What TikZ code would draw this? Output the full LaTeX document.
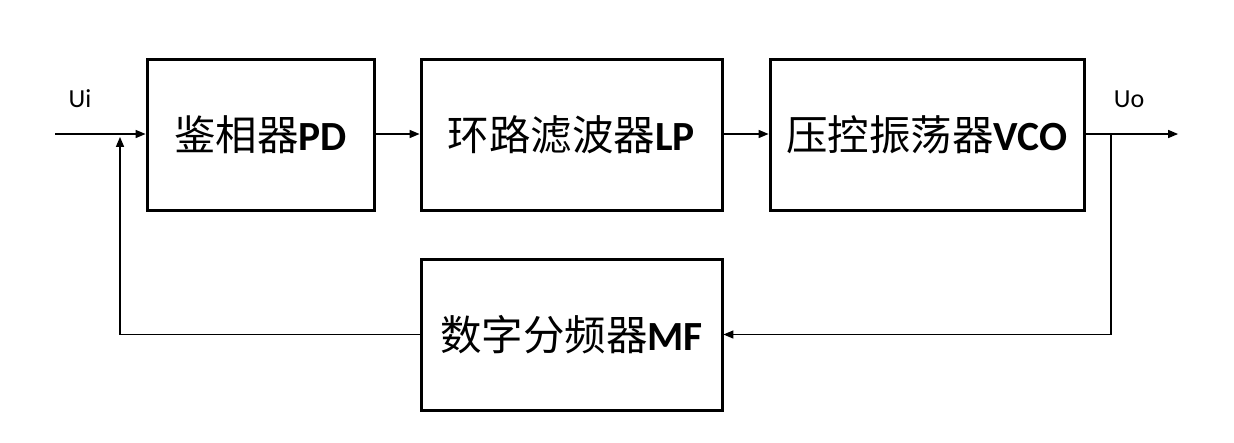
\documentclass[tikz,border=0pt]{standalone}
\usepackage{fontspec}
\setmainfont{Carlito}
\newfontfamily\cjk{Noto Sans CJK SC}
\usetikzlibrary{arrows,shapes}
\usetikzlibrary{calc}
\tikzstyle{block}=[rectangle,draw=black,fill=white,line width=3pt,inner sep=0pt,font=\fontsize{41.5}{44}\selectfont]
\tikzstyle{wire}=[line width=1.3pt]
\tikzstyle{sig} = [font=\fontsize{26}{28}\selectfont]

\begin{document}
\begin{tikzpicture}[x=1pt, y=-1pt, >=triangle 45]

  \useasboundingbox (0,0) rectangle (1234,442);

    \foreach \pos/\name/\w/\txt/\lat in {{(260.5,135)/pd/227/鉴相器/PD}, {(571.5,134.5)/lp/301/环路滤波器/LP}, {(927,135)/vco/314/压控振荡器/VCO}, {(571.5,334.5)/mf/301/数字分频器/MF}}
        \node[block, minimum width=\w pt, minimum height=151pt] (\name) at \pos {{\cjk \txt}\textbf{\lat}};

  \coordinate (in) at (55,134);
  \coordinate (join) at (120,134);
  \coordinate (out) at (1178,134);
  \coordinate (tap) at (1111,134);

  \draw[->, wire] (in) -- (pd.west |- in);
  \draw[->, wire] (pd.east |- in) -- (lp.west |- in);
  \draw[->, wire] (lp.east |- in) -- (vco.west |- in);
  \draw[->, wire] (vco.east |- out) -- (out);

  \draw[->, wire] (tap) -- (tap |- mf.east) -- (mf.east);
  \draw[->, wire] (mf.west) -- (join |- mf.west) -- ($(join)+(0,3)$);

  \node[sig] (ui) at (80,99) {Ui};
  \node[sig] (uo) at (1129,99) {Uo};

\end{tikzpicture}
\end{document}
